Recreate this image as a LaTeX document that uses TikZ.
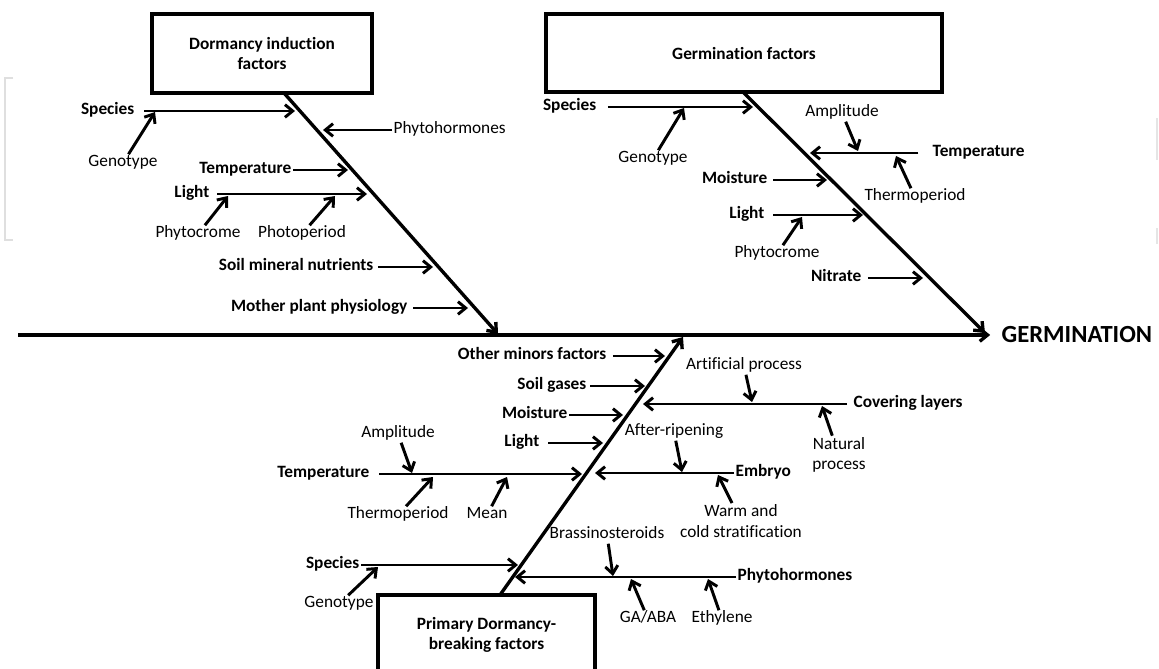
\documentclass[tikz,border=0pt]{standalone}
\usepackage{fontspec}
\setmainfont{Carlito}[Ligatures=NoCommon]
\usetikzlibrary{arrows.meta,positioning}
\begin{document}
\begin{tikzpicture}[x=0.025cm,y=-0.025cm,
  >={Straight Barb[length=5.5pt,width=9pt]},
  fac/.style={font=\fontsize{12.3}{14.5}\selectfont\bfseries, inner sep=1pt, text height=1.6ex, text depth=.5ex},
  sub/.style={font=\fontsize{12.3}{14.5}\selectfont, inner sep=1pt, text height=1.6ex, text depth=.5ex},
  subtwo/.style={font=\fontsize{12.3}{14.5}\selectfont, inner sep=1pt, align=center},
  catbox/.style={draw, line width=2.3pt, font=\fontsize{12.3}{14.5}\selectfont\bfseries, align=center, inner sep=0pt},
  bone/.style={line width=2.4pt},
  arr/.style={->, line width=2.1pt}]
\clip (0,0) rectangle (1159,669);

% faint edges of the cropped source
\draw[gray!25, line width=1pt] (13,78) -- (5,78) -- (5,240) -- (13,240);
\draw[gray!20, line width=1.5pt] (1157,118) -- (1157,160) (1157,228) -- (1157,244);

% heads and spines
\node[catbox, minimum width=5.5cm, minimum height=1.975cm] (dormbox) at (262,53.5) {Dormancy induction\\factors};
\node[catbox, minimum width=9.9cm, minimum height=1.95cm] (germbox) at (744,53) {Germination factors};
\node[catbox, minimum width=5.425cm, minimum height=2cm] (breakbox) at (486.5,635) {Primary Dormancy-\\breaking factors};
\node[font=\fontsize{17.5}{20}\selectfont\bfseries, anchor=west, inner sep=1pt] (germ) at (1000,335) {GERMINATION};

\coordinate (tlA) at (284,93);  \coordinate (tlB) at (498,334);
\coordinate (trA) at (743,92);  \coordinate (trB) at (985,333);
\coordinate (bA) at (500,595);  \coordinate (bB) at (683,337);
\coordinate (mA) at (18,335);

\draw[bone,->] (mA) -- (germ) [shorten >=7pt];
\draw[bone,->] (tlA) -- (tlB);
\draw[bone,->] (trA) -- (trB);
\draw[bone,->] (bA) -- (bB);

% dormancy induction
\node[fac, anchor=east] (tlsp) at (136,111) {Species};
\node[sub] (tlgeno) at (123,163) {Genotype};
\node[sub, anchor=west] (tlphyto) at (392,130) {Phytohormones};
\node[fac, anchor=east] (tltemp) at (293,170) {Temperature};
\node[fac, anchor=east] (tllight) at (211,194) {Light};
\node[sub] (tlphyc) at (198,234) {Phytocrome};
\node[sub] (tlphotop) at (302,234) {Photoperiod};
\node[fac, anchor=east] (tlsoil) at (375,267) {Soil mineral nutrients};
\node[fac, anchor=east] (tlmother) at (409,308) {Mother plant physiology};

\coordinate (tlspE) at (295,111);
\coordinate (tlgenoE) at (155,112);
\coordinate (tlphytoE) at (323,130);
\coordinate (tltempE) at (348,170);
\coordinate (tllightE) at (367,194);
\coordinate (tlphycE) at (228,196);
\coordinate (tlphotopE) at (335,196);
\coordinate (tlsoilE) at (433,267);
\coordinate (tlmotherE) at (468,308);

\draw[arr, shorten <=6pt] (tlsp) -- (tlspE);
\draw[arr] (tlgeno) -- (tlgenoE);
\draw[arr] (tlphyto) -- (tlphytoE);
\draw[arr] (tltemp) -- (tltempE);
\draw[arr, shorten <=4.5pt] (tllight) -- (tllightE);
\draw[arr] (tlphyc) -- (tlphycE);
\draw[arr] (tlphotop) -- (tlphotopE);
\draw[arr, shorten <=2pt] (tlsoil) -- (tlsoilE);
\draw[arr, shorten <=3pt] (tlmother) -- (tlmotherE);

% germination
\node[fac, anchor=east] (trsp) at (598,107) {Species};
\node[sub] (trgeno) at (653,159) {Genotype};
\node[sub] (trampl) at (842,113) {Amplitude};
\node[fac, anchor=west] (trtemp) at (931,153) {Temperature};
\node[sub] (trthermo) at (915,197) {Thermoperiod};
\node[fac, anchor=east] (trmoist) at (769,180) {Moisture};
\node[fac, anchor=east] (trlight) at (766,215) {Light};
\node[sub] (trphyc) at (777,254) {Phytocrome};
\node[fac, anchor=east] (trnit) at (863,278) {Nitrate};

\coordinate (trspE) at (753,107);
\coordinate (trgenoE) at (684,108);
\coordinate (tramplE) at (858,151);
\coordinate (trtempE) at (810,153);
\coordinate (trthermoE) at (896,156);
\coordinate (trmoistE) at (827,180);
\coordinate (trlightE) at (863,215);
\coordinate (trphycE) at (802,217);
\coordinate (trnitE) at (923,278);

\draw[arr, shorten <=7pt] (trsp) -- (trspE);
\draw[arr] (trgeno) -- (trgenoE);
\draw[arr] (trampl) -- (tramplE);
\draw[arr, shorten <=9pt] (trtemp) -- (trtempE);
\draw[arr] (trthermo) -- (trthermoE);
\draw[arr, shorten <=3pt] (trmoist) -- (trmoistE);
\draw[arr, shorten <=5pt] (trlight) -- (trlightE);
\draw[arr] (trphyc) -- (trphycE);
\draw[arr, shorten <=3.5pt] (trnit) -- (trnitE);

% dormancy breaking
\node[fac, anchor=east] (bother) at (608,356) {Other minors factors};
\node[fac, anchor=east] (bsoil) at (588,386) {Soil gases};
\node[fac, anchor=east] (bmoist) at (569,415) {Moisture};
\node[fac, anchor=east] (blight) at (541,443) {Light};
\node[sub] (bampl) at (398,434) {Amplitude};
\node[fac, anchor=east] (btemp) at (371,474) {Temperature};
\node[sub] (bthermo) at (398,515) {Thermoperiod};
\node[sub] (bmean) at (487,515) {Mean};
\node[fac, anchor=west] (bcover) at (852,404) {Covering layers};
\node[sub] (bartif) at (744,366) {Artificial process};
\node[subtwo] (bnat) at (839,455) {Natural\\process};
\node[fac, anchor=west] (bembryo) at (734,473) {Embryo};
\node[sub] (bafter) at (674,432) {After-ripening};
\node[subtwo] (bwarm) at (741,521) {Warm and\\cold stratification};
\node[fac, anchor=east] (bsp) at (361,565) {Species};
\node[sub] (bgeno) at (339,604) {Genotype};
\node[fac, anchor=west] (bphyto) at (736,577) {Phytohormones};
\node[sub] (bbrass) at (607,535) {Brassinosteroids};
\node[sub] (bgaaba) at (648,619) {GA/ABA};
\node[sub] (bethyl) at (722,619) {Ethylene};

\coordinate (botherE) at (665,356);
\coordinate (bsoilE) at (645,386);
\coordinate (bmoistE) at (623,415);
\coordinate (blightE) at (603,443);
\coordinate (bamplE) at (412,473);
\coordinate (btempE) at (582,474);
\coordinate (bthermoE) at (433,477);
\coordinate (bmeanE) at (507,477);
\coordinate (bcoverE) at (643,404);
\coordinate (bartifE) at (752,402);
\coordinate (bnatE) at (822,406);
\coordinate (bembryoE) at (595,473);
\coordinate (bafterE) at (682,472);
\coordinate (bwarmE) at (718,475);
\coordinate (bspE) at (518,565);
\coordinate (bgenoE) at (378,567);
\coordinate (bphytoE) at (515,577);
\coordinate (bbrassE) at (613,576);
\coordinate (bgaabaE) at (631,579);
\coordinate (bethylE) at (708,579);

\draw[arr, shorten <=3.5pt] (bother) -- (botherE);
\draw[arr, shorten <=1.5pt] (bsoil) -- (bsoilE);
\draw[arr] (bmoist) -- (bmoistE);
\draw[arr, shorten <=5pt] (blight) -- (blightE);
\draw[arr] (bampl) -- (bamplE);
\draw[arr, shorten <=6pt] (btemp) -- (btempE);
\draw[arr] (bthermo) -- (bthermoE);
\draw[arr] (bmean) -- (bmeanE);
\draw[arr, shorten <=3.5pt] (bcover) -- (bcoverE);
\draw[arr] (bartif) -- (bartifE);
\draw[arr] (bnat) -- (bnatE);
\draw[arr] (bembryo) -- (bembryoE);
\draw[arr] (bafter) -- (bafterE);
\draw[arr] (bwarm) -- (bwarmE);
\draw[arr] (bsp) -- (bspE);
\draw[arr] (bgeno) -- (bgenoE);
\draw[arr] (bphyto) -- (bphytoE);
\draw[arr] (bbrass) -- (bbrassE);
\draw[arr] (bgaaba) -- (bgaabaE);
\draw[arr] (bethyl) -- (bethylE);
\end{tikzpicture}
\end{document}
